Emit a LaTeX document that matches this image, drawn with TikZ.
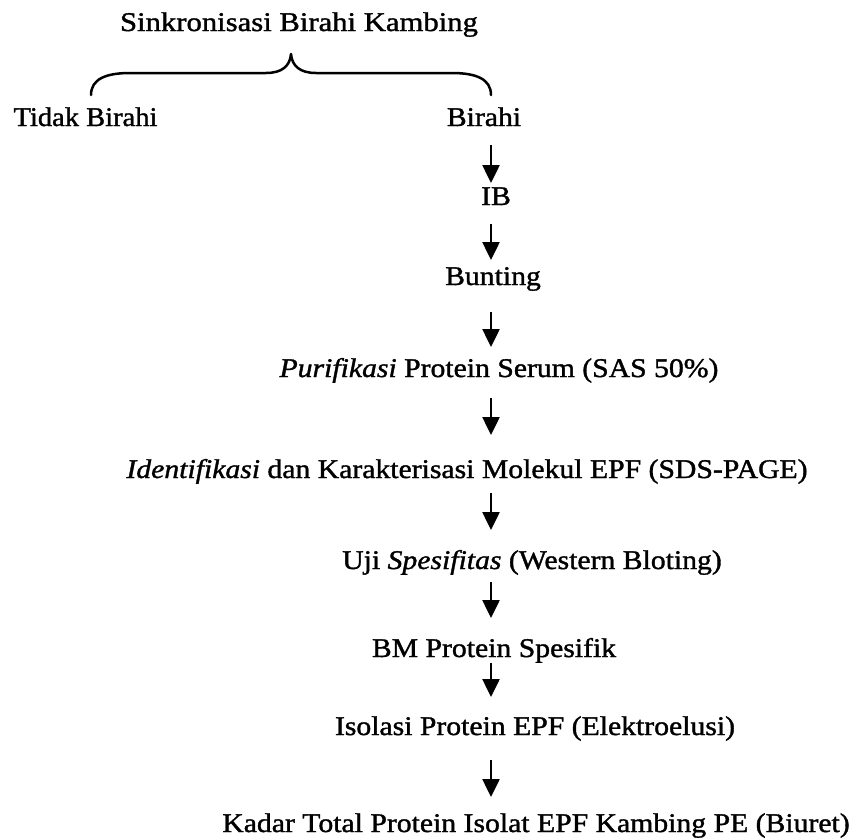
\documentclass[tikz,border=0pt]{standalone}
\usepackage{fontspec}
\setmainfont[FakeStretch=1.1,FakeBold=1.3]{Liberation Serif}
\usepackage{graphicx}
\usetikzlibrary{arrows.meta}
\tikzset{
  txt/.style={inner sep=0pt, anchor=base, font=\fontsize{27}{32}\selectfont},
  arr/.style={line width=2.5pt, -{Triangle[width=17pt,length=18pt]}},
  brace/.style={line width=2.5pt, line cap=round, line join=round}
}
\begin{document}
\begin{tikzpicture}[x=1pt,y=-1pt]
\useasboundingbox (0,0) rectangle (858,839);
\coordinate (ax) at (491,0);
\node[txt] (title) at (299,31) {\scalebox{1.033}[1]{Sinkronisasi Birahi Kambing}};
\node[txt] (tidak) at (85.5,126) {\scalebox{0.96}[1]{Tidak Birahi}};
\node[txt] (birahi) at (484,126) {Birahi};
\node[txt] (ib) at (496,205) {IB};
\node[txt] (bunting) at (493,285) {Bunting};
\node[txt] (purif) at (499,377) {\textit{Purifikasi} Protein Serum (SAS 50\%)};
\node[txt] (ident) at (467,478) {\textit{Identifikasi} dan Karakterisasi Molekul EPF (SDS-PAGE)};
\node[txt] (uji) at (532,569) {Uji \textit{Spesifitas} (Western Bloting)};
\node[txt] (bm) at (494,657) {BM Protein Spesifik};
\node[txt] (isolasi) at (535,735) {Isolasi Protein EPF (Elektroelusi)};
\node[txt] (kadar) at (536,832) {Kadar Total Protein Isolat EPF Kambing PE (Biuret)};
% brace
\coordinate (bl) at (91,95);
\coordinate (bt) at (291,54);
\coordinate (br) at (491,95);
\draw[brace] (bl) .. controls (91,79) and (106,73) .. (130,73) -- (266,73)
  .. controls (282,73) and (290,66) .. (bt)
  .. controls (292,66) and (300,73) .. (316,73) -- (452,73)
  .. controls (476,73) and (491,79) .. (br);
% arrows
\draw[arr, shorten <=19pt, shorten >=22pt] (birahi.base -| ax) -- (ib.base -| ax);
\draw[arr, shorten <=19pt, shorten >=25pt] (ib.base -| ax) -- (bunting.base -| ax);
\draw[arr, shorten <=27pt, shorten >=30pt] (bunting.base -| ax) -- (purif.base -| ax);
\draw[arr, shorten <=21pt, shorten >=43pt] (purif.base -| ax) -- (ident.base -| ax);
\draw[arr, shorten <=15pt, shorten >=39pt] (ident.base -| ax) -- (uji.base -| ax);
\draw[arr, shorten <=13pt, shorten >=39pt] (uji.base -| ax) -- (bm.base -| ax);
\draw[arr, shorten <=6pt, shorten >=38pt] (bm.base -| ax) -- (isolasi.base -| ax);
\draw[arr, shorten <=25pt, shorten >=35pt] (isolasi.base -| ax) -- (kadar.base -| ax);
\end{tikzpicture}
\end{document}
